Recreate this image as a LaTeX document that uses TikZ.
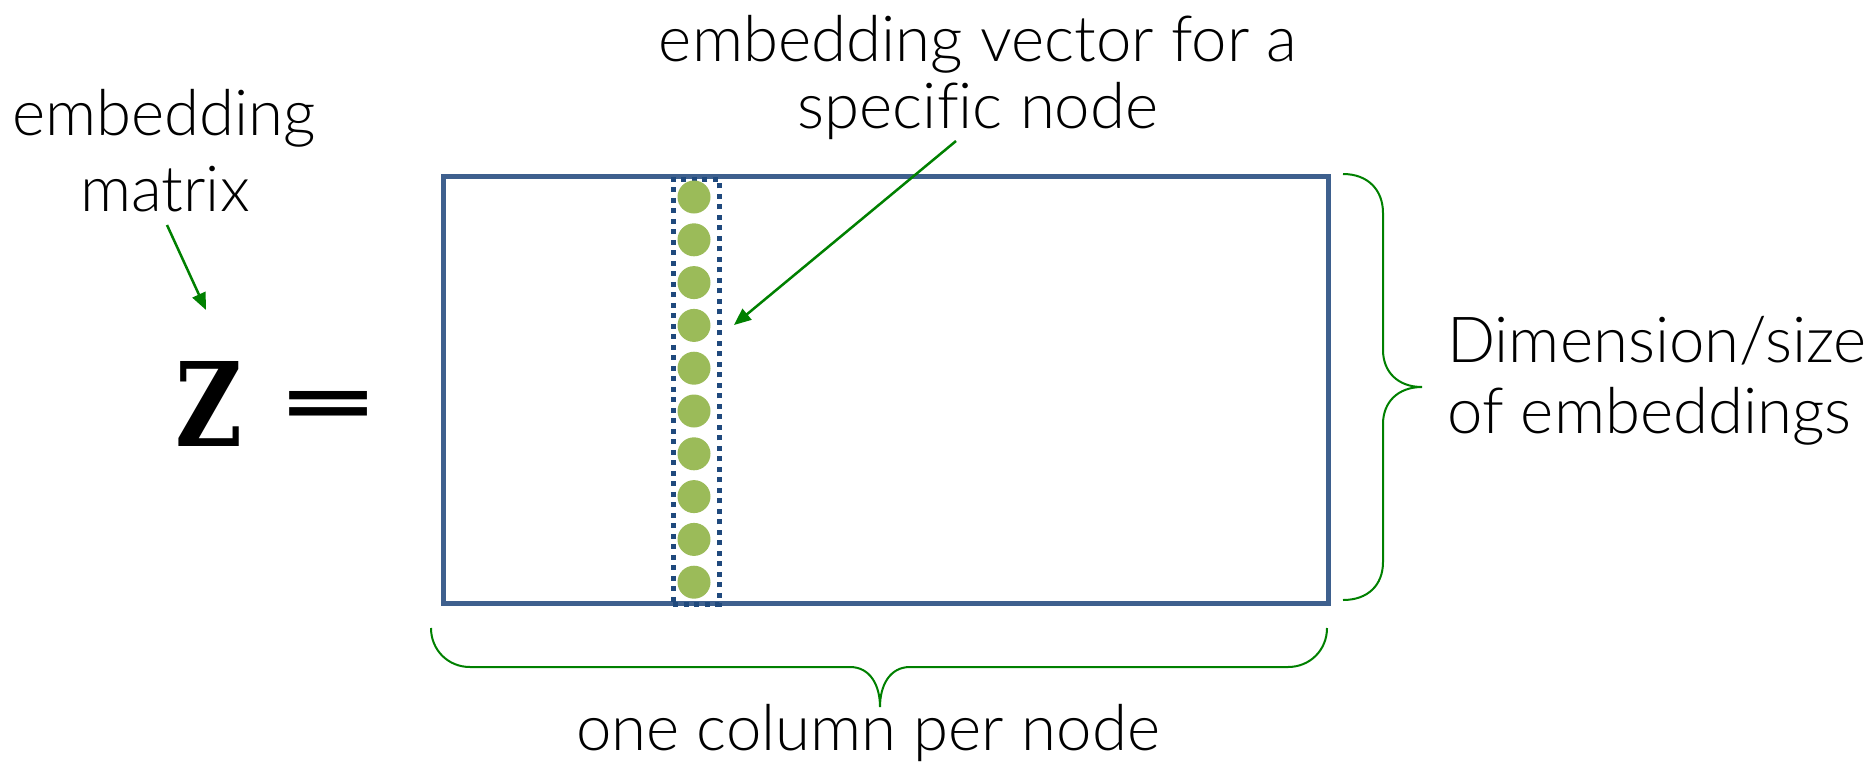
\documentclass[tikz,border=0pt]{standalone}
\usepackage{fontspec}
\usepackage{graphicx}
\setmainfont{Lato}[UprightFont=* Light, Ligatures=NoCommon]
\newfontfamily\zfont{DejaVu Serif}
\newfontfamily\eqfont{DejaVu Sans}
\usetikzlibrary{arrows.meta}
\definecolor{rectblue}{RGB}{62,96,142}
\definecolor{dotblue}{RGB}{31,73,125}
\definecolor{dotgreen}{RGB}{155,187,89}
\definecolor{arrgreen}{RGB}{0,128,0}
\tikzset{
  lbl/.style={inner sep=0pt, font=\fontsize{63.5}{72}\selectfont},
  matbox/.style={draw=rectblue, line width=4.5pt, inner sep=0pt},
  colbox/.style={draw=dotblue, line width=4.5pt, dash pattern=on 5pt off 5.5pt, inner sep=0pt},
  entry/.style={circle, fill=dotgreen, minimum size=33pt, inner sep=0pt},
  pointer/.style={draw=arrgreen, line width=2.5pt, -{Triangle[length=17pt,width=14pt]}},
  bracestyle/.style={draw=arrgreen, line width=2pt}
}
\begin{document}
\begin{tikzpicture}[x=1pt,y=-1pt]
\useasboundingbox (0,0) rectangle (1874,761);
% matrix box
\node[matbox, minimum width=885pt, minimum height=427pt, anchor=north west] (M) at (441,174) {};
% column
\node[colbox, minimum width=46pt, minimum height=425pt, anchor=north west] (col) at (671,177) {};
\foreach \i in {1,...,10} {
  \node[entry] (c\i) at (694,{197+(\i-1)*42.8}) {};
}
% Z =
\node[inner sep=0pt, anchor=south west] (Z) at (175,447) {\resizebox{67pt}{85pt}{\zfont\bfseries Z}};
\node[inner sep=0pt, anchor=south] (eq) at (329,427) {\resizebox{104pt}{35pt}{\eqfont\bfseries =}};
% left labels
\node[lbl, anchor=base] (em1) at (164,135) {embedding};
\node[lbl, anchor=base] (em2) at (165,211) {matrix};
\coordinate (a1s) at (167,225);
\coordinate (a1e) at (206,310);
\draw[pointer] (a1s) -- (a1e);
% top labels
\node[lbl, anchor=base] (ev1) at (978,61) {embedding vector for a};
\node[lbl, anchor=base] (ev2) at (978,128) {specific node};
\coordinate (a2s) at (956,141);
\coordinate (a2e) at (734,325);
\draw[pointer] (a2s) -- (a2e);
% right brace
\draw[bracestyle] (1343,174) .. controls (1368,174) and (1383,190) .. (1383,213)
  -- (1383,350) .. controls (1383,372) and (1398,387) .. (1422,387)
  .. controls (1398,387) and (1383,402) .. (1383,424)
  -- (1383,562) .. controls (1383,585) and (1368,600) .. (1343,600);
\node[lbl, anchor=base west] (d1) at (1447,362) {Dimension/size};
\node[lbl, anchor=base west] (d2) at (1447,433) {of embeddings};
% bottom brace
\draw[bracestyle] (431,628) .. controls (431,650) and (448,667) .. (470,667)
  -- (850,667) .. controls (870,667) and (880,685) .. (880,707)
  .. controls (880,685) and (890,667) .. (910,667)
  -- (1288,667) .. controls (1310,667) and (1327,650) .. (1327,628);
\node[lbl, anchor=base] (oc) at (868,750) {one column per node};
\end{tikzpicture}
\end{document}
